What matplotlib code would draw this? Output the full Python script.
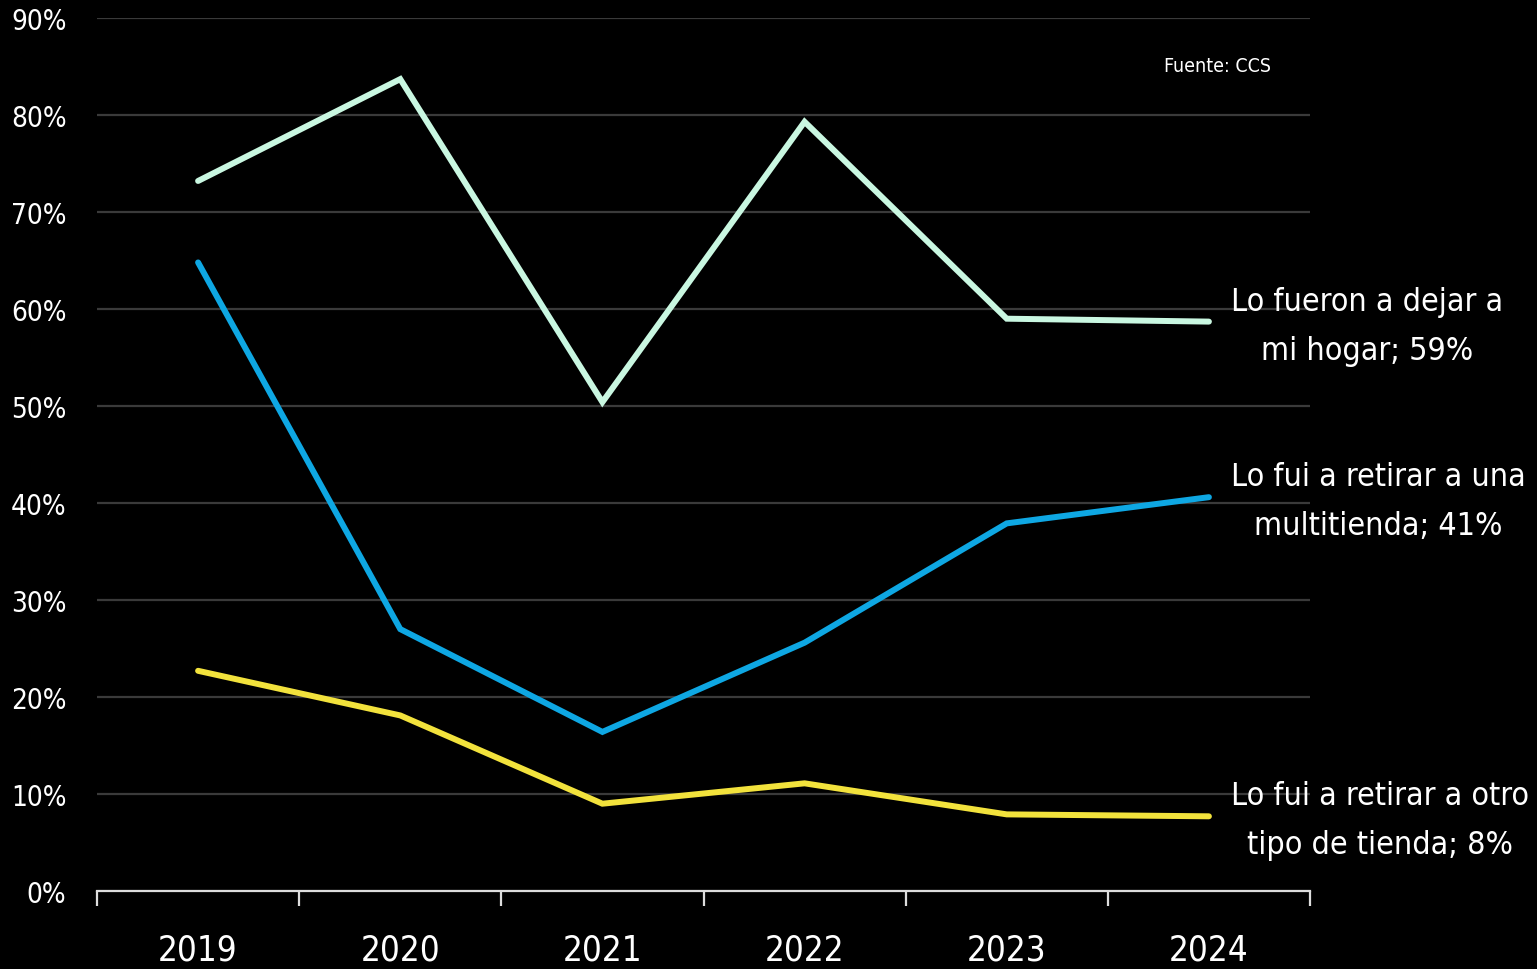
import matplotlib.pyplot as plt
from matplotlib import font_manager

# pick a narrow font if there is one
names = set(f.name for f in font_manager.fontManager.ttflist)
if 'Liberation Sans Narrow' in names:
    fam = ['Liberation Sans Narrow', 'DejaVu Sans']
    stretch = 'normal'
else:
    fam = ['DejaVu Sans']
    stretch = 'condensed'
plt.rcParams['font.family'] = fam
plt.rcParams['font.stretch'] = stretch

years = ['2019', '2020', '2021', '2022', '2023', '2024']
hogar = [73.2, 83.7, 50.4, 79.3, 59.0, 58.7]
multitienda = [64.8, 27.0, 16.4, 25.6, 37.9, 40.6]
otra_tienda = [22.7, 18.1, 9.0, 11.1, 7.9, 7.7]
labels = ['Lo fueron a dejar a\nmi hogar; 59%',
          'Lo fui a retirar a una\nmultitienda; 41%',
          'Lo fui a retirar a otro\ntipo de tienda; 8%']
colors = ['#c9f7e1', '#0ea7e3', '#f2e23c']

fig = plt.figure(figsize=(15.37, 9.70), dpi=100, facecolor='black')
ax = fig.add_axes([97 / 1537, 78 / 970, (1310 - 97) / 1537, (892 - 19) / 970])
ax.set_facecolor('black')

x = list(range(len(years)))
for serie, c, lab in zip([hogar, multitienda, otra_tienda], colors, labels):
    ax.plot(x, serie, color=c, lw=4.3, solid_capstyle='round', solid_joinstyle='miter', zorder=3)
    ax.annotate(lab, (x[-1], serie[-1]), xytext=(16, -3), textcoords='offset points',
                ha='left', va='center', multialignment='center', color='white',
                fontsize=23, linespacing=1.75, annotation_clip=False)

ax.set_xlim(-0.5, 5.5)
ax.set_ylim(0, 90)
ax.set_yticks(range(0, 100, 10))
ax.set_yticklabels([f'{v}%' for v in range(0, 100, 10)])
ax.grid(axis='y', color='#3a3a3a', lw=1.6, zorder=0)
ax.set_axisbelow(True)

ax.set_xticks([i - 0.5 for i in range(len(years) + 1)])
ax.set_xticklabels([])
ax.set_xticks(x, minor=True)
ax.set_xticklabels(years, minor=True)
ax.tick_params(axis='x', which='major', length=11, width=1.6, color='#dddddd', direction='out')
ax.tick_params(axis='x', which='minor', length=0, pad=30, labelsize=25, labelcolor='white')
ax.tick_params(axis='y', length=0, pad=22, labelsize=20, labelcolor='white')

for s in ['top', 'right', 'left']:
    ax.spines[s].set_visible(False)
ax.spines['bottom'].set_color('#dddddd')
ax.spines['bottom'].set_linewidth(1.6)

fig.text(1217 / 1537, 1 - 66 / 970, 'Fuente: CCS', color='white', fontsize=14,
         ha='center', va='center')

fig.savefig('out.png', facecolor='black')
